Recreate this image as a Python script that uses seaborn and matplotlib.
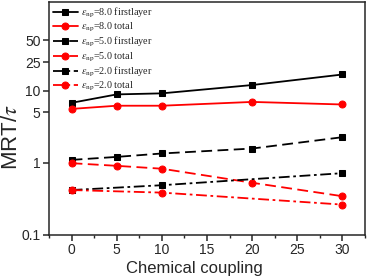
import matplotlib
matplotlib.use("Agg")
import matplotlib.pyplot as plt
import seaborn as sns
import numpy as np
import pandas as pd
from matplotlib.ticker import FixedLocator, FixedFormatter, NullLocator, MultipleLocator

coupling_full = [0, 5, 10, 20, 30]
coupling_dd = [0, 10, 30]
e8_first = [6.8, 8.9, 9.2, 12.0, 16.8]
e8_total = [5.6, 6.2, 6.2, 7.0, 6.45]
e5_first = [1.10, 1.21, 1.35, 1.58, 2.27]
e5_total = [0.99, 0.91, 0.83, 0.53, 0.345]
e2_first = [0.42, 0.49, 0.72]
e2_total = [0.42, 0.387, 0.264]

labels = [r'$\varepsilon_{\rm np}$=8.0 firstlayer', r'$\varepsilon_{\rm np}$=8.0 total',
          r'$\varepsilon_{\rm np}$=5.0 firstlayer', r'$\varepsilon_{\rm np}$=5.0 total',
          r'$\varepsilon_{\rm np}$=2.0 firstlayer', r'$\varepsilon_{\rm np}$=2.0 total']
yticks = [0.1, 1, 5, 10, 25, 50]
ytick_labels = ['0.1', '1', '5', '10', '25', '50']

sns.set_style("ticks")
plt.rcParams['font.family'] = ['Liberation Sans', 'DejaVu Sans']
plt.rcParams['mathtext.fontset'] = 'stix'

fig = plt.figure(figsize=(3.7, 2.78), dpi=100)
ax = fig.add_axes([49/370, 1 - 235/278, (365 - 49)/370, (235 - 2)/278])

series = [
    (coupling_full, e8_first, 'black', 's', None),
    (coupling_full, e8_total, 'red', 'o', None),
    (coupling_full, e5_first, 'black', 's', (6, 3)),
    (coupling_full, e5_total, 'red', 'o', (6, 3)),
    (coupling_dd, e2_first, 'black', 's', (6, 2, 1.5, 2)),
    (coupling_dd, e2_total, 'red', 'o', (6, 2, 1.5, 2)),
]
handles = []
for (xs, ys, c, m, d), lab in zip(series, labels):
    df = pd.DataFrame({'x': xs, 'y': ys})
    sns.lineplot(data=df, x='x', y='y', color=c, marker=m, markersize=4.5 if m == 's' else 5,
                 markeredgecolor=c, linewidth=1.3, ax=ax, legend=False)
    line = ax.lines[-1]
    line.set_label(lab)
    if d is not None:
        line.set_dashes(d)
    handles.append(line)

ax.set_yscale('log')
ax.set_ylim(0.1, 170)
ax.set_xlim(-2.5, 32.5)
ax.yaxis.set_major_locator(FixedLocator(yticks))
ax.yaxis.set_major_formatter(FixedFormatter(ytick_labels))
ax.yaxis.set_minor_locator(NullLocator())
ax.xaxis.set_major_locator(MultipleLocator(5))
ax.xaxis.set_minor_locator(MultipleLocator(2.5))
ax.tick_params(axis='both', which='major', direction='out', length=4, width=1.1, labelsize=10, pad=2)
ax.tick_params(axis='x', which='minor', direction='out', length=2.5, width=1.0)
for s in ax.spines.values():
    s.set_linewidth(1.1)
    s.set_visible(True)
ax.set_xlabel('Chemical coupling', fontsize=12, labelpad=0)
ax.xaxis.set_label_coords(0.459, -0.11)
ax.set_ylabel(r'MRT/$\tau$', fontsize=16, va='center')
ax.yaxis.set_label_coords(-0.118, 0.42)

leg = ax.legend(handles=handles, loc='upper left', frameon=False,
                prop={'family': 'Liberation Serif', 'size': 7.3},
                handlelength=2.5, handletextpad=0.3, labelspacing=0.12, borderaxespad=0.15,
                borderpad=0.2)

fig.savefig('out.png', dpi=100)
